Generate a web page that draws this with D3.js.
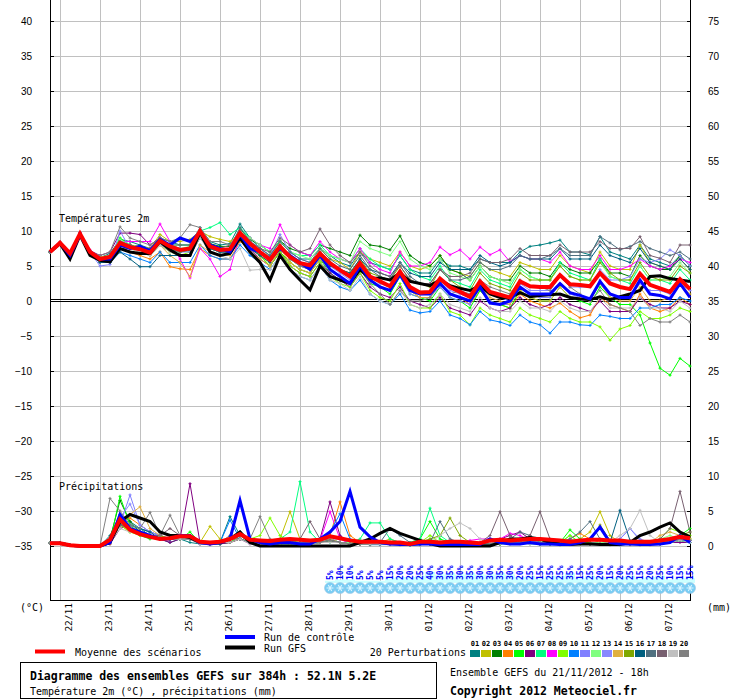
<!DOCTYPE html>
<html>
<head>
<meta http-equiv="Content-Type" content="text/html; charset=utf-8" />
<title>Diagramme des ensembles GEFS</title>
<script type="text/javascript" src="https://cdn.jsdelivr.net/npm/d3@7"></script>
<style type="text/css">
body { margin: 0; background: #fff; }
svg { display: block; }
.mono { font-family: "DejaVu Sans Mono", monospace; }
.axis text { font-family: "Liberation Sans", Arial, sans-serif; font-size: 10px; fill: #000; }
</style>
</head>
<body>
<script type="text/javascript">

// ---- data (pas de 6h, 65 echeances de 0h a 384h) ----
var dates = ["22/11","23/11","24/11","25/11","26/11","27/11","28/11","29/11","30/11","01/12","02/12","03/12","04/12","05/12","06/12","07/12"];
var tempTicks = [40,35,30,25,20,15,10,5,0,-5,-10,-15,-20,-25,-30,-35];
var precTicks = [75,70,65,60,55,50,45,40,35,30,25,20,15,10,5,0];

// temperature 2m
var tMean = [7.0,8.3,6.8,9.6,7.0, 6.0,6.3,8.3,7.7,7.4, 6.9,8.6,7.8,7.3,7.5, 10.0,7.8,7.3,7.4,9.7, 8.2,7.0,5.9,7.8,6.3, 5.4,5.1,6.8,5.4,4.4, 3.5,5.4,3.5,2.8,2.1, 4.2,2.0,1.2,1.3,3.2, 2.0,1.3,0.6,2.8,1.3, 0.9,0.5,2.8,2.1,2.0, 2.0,3.7,2.4,2.3,2.1, 4.0,2.5,2.0,1.7,3.9, 2.3,1.8,1.3,3.1,1.7];
var tCtrl = [7.0,8.3,6.5,9.5,7.0, 6.0,6.0,8.0,7.5,7.8, 7.2,8.8,8.0,9.0,8.5, 9.8,8.0,7.5,7.0,9.5, 7.5,7.0,6.0,7.5,6.5, 5.5,4.5,6.5,4.5,3.5, 2.5,5.0,3.0,2.0,1.5, 3.8,1.5,1.0,1.0,2.5, 1.0,0.5,0.0,2.0,-0.3, -0.5,0.0,2.0,1.0,1.0, 1.0,2.5,1.2,0.8,0.3, 2.8,1.0,0.5,0.5,3.0, 1.0,0.8,0.3,2.5,0.5];
var tGfs = [7.0,8.2,6.0,9.4,6.5, 5.8,5.6,7.5,7.0,6.8, 6.8,8.5,7.3,6.5,6.5, 9.8,7.0,6.5,6.8,9.0, 7.0,5.5,3.0,6.5,4.5, 3.0,1.6,5.0,3.5,3.0, 2.5,4.5,3.2,3.3,3.0, 4.0,2.8,2.5,2.2,3.0, 2.2,1.8,1.5,2.2,1.0, 0.5,0.5,1.2,0.6,0.8, 0.9,1.0,0.5,0.3,0.2, 0.6,0.2,0.6,1.0,1.5, 3.5,3.6,3.2,3.0,2.8];

var t01 = [7.0,8.3,6.6,9.8,7.2, 6.2,6.8,8.8,8.5, 8.0,7.5,9.0,8.5, 8.0,8.0,10.5,8.5, 8.0,8.2,11.0,9.0, 7.5,6.5,8.5,7.0, 6.0,6.0,7.5,6.5, 5.5,5.0,7.0,5.5, 5.0,4.5,6.5,4.5, 4.0,4.0,6.0,5.0, 5.0,4.5,6.0,5.5, 5.5,5.5,7.0,7.8, 8.0,8.3,8.7,7.0, 7.0,6.6,9.2,7.0, 6.5,6.0,8.0,6.0, 5.5,5.0,6.5,5.0];
var t02 = [7.0,8.2,6.9,9.5,7.1, 6.3,6.5,8.5,8.0, 7.8,7.5,9.5,8.5, 8.5,8.8,10.0,9.2, 8.8,8.5,9.5,8.0, 7.0,6.5,8.0,6.0, 5.5,4.5,7.5,6.0, 5.5,4.5,7.0,6.0, 5.5,5.0,7.0,5.0, 4.5,5.0,6.5,4.5, 4.0,3.5,5.5,4.5, 4.0,3.5,5.5,5.0, 4.5,4.5,6.5,5.0, 4.5,4.0,7.0,5.0, 4.5,4.5,8.0,5.5, 5.0,4.5,6.0,4.5];
var t03 = [7.1,8.4,6.7,9.7,7.0, 5.8,6.2,8.0,7.6, 7.2,6.8,8.4,7.5, 7.0,7.2,9.6,8.2, 7.8,7.8,10.3,8.8, 8.0,7.0,8.6,7.5, 7.0,6.5,8.0,7.5, 7.0,6.5,9.4,8.0, 7.8,7.3,9.3,6.5, 5.5,5.0,6.5,4.5, 4.0,3.0,5.0,3.5, 3.0,3.0,5.0,4.0, 4.0,3.5,5.5,4.5, 4.0,4.0,6.0,4.0, 4.0,3.5,6.5,5.0, 4.5,4.5,6.5,5.0];
var t04 = [7.0,8.2,6.8,9.5,6.9, 5.8,5.8,7.5,7.0, 6.5,6.0,7.0,4.9, 4.6,4.5,7.5,6.5, 6.0,6.0,8.5,7.5, 6.5,5.5,7.0,5.5, 4.5,4.0,6.0,4.5, 3.5,2.5,4.5,3.0, 2.0,1.5,3.5,1.5, 0.5,0.5,2.5,1.0, 0.5,-0.5,1.5,0.0, -0.5,-1.0,1.0,0.0, -0.5,-1.0,-0.3,-1.5, -2.4,-2.0,0.5,-0.5, -1.0,-1.5,1.0,-1.0, -1.5,-1.0,0.5,-0.5];
var t05 = [7.0,8.3,6.8,9.6,7.0, 6.0,6.4,9.0,8.0, 7.5,7.0,8.5,7.5, 7.0,7.5,10.0,7.5, 7.0,7.0,9.0,8.0, 6.5,5.0,7.0,5.5, 4.5,4.0,6.0,4.0, 3.0,2.5,4.5,2.5, 2.0,1.0,3.5,1.0, 0.5,0.0,2.0,0.5, 0.0,-1.0,1.5,0.0, -0.5,-1.0,1.5,0.5, 0.0,0.0,2.0,0.5, 0.0,-0.5,2.0,0.5, -0.5,-0.5,-2.0,-6.0, -9.6,-10.6,-8.2,-9.3];
var t06 = [7.0,8.3,6.9,9.7,7.2, 6.5,7.0,9.7,9.7, 9.5,8.0,9.0,8.0, 7.5,7.5,9.5,7.5, 7.0,7.0,9.0,7.5, 6.0,5.0,7.0,5.0, 4.0,3.5,5.5,4.0, 3.0,2.0,4.0,2.0, 1.0,0.5,2.0,0.0, -0.5,-1.0,0.5,-1.0, -1.5,-2.0,0.0,-1.0, -1.5,-1.0,0.5,-0.5, -1.0,-0.5,0.5,-0.5, -1.0,-1.5,0.0,-1.5, -1.5,-1.5,0.5,-0.5, -1.0,-1.0,0.0,-0.5];
var t07 = [7.0,8.2,6.7,9.6,7.0, 6.0,6.5,8.5,8.0, 7.5,7.0,8.5,8.0, 8.0,8.0,10.0,10.5, 11.2,9.5,10.5,9.0, 8.0,7.0,8.5,7.0, 6.5,6.5,8.0,6.5, 6.0,5.5,7.5,6.0, 5.0,4.5,6.5,4.5, 3.5,3.0,5.0,3.0, 2.5,2.0,4.5,3.0, 2.5,2.0,4.5,3.5, 3.0,3.0,5.5,4.0, 3.5,3.0,6.0,3.5, 3.0,2.5,5.0,3.0, 3.0,2.5,4.5,3.0];
var t08 = [7.0,8.4,6.9,9.8,7.3, 6.0,6.5,8.5,8.5, 8.5,8.5,11.0,8.5, 6.0,3.3,7.5,6.0, 3.5,4.5,9.5,9.0, 8.0,7.5,10.9,8.0, 7.0,6.5,8.5,7.0, 6.0,5.5,7.5,5.5, 4.5,4.0,7.0,5.0, 5.0,5.5,7.7,6.6, 7.3,6.0,7.7,6.6, 7.3,5.6,6.5,6.0, 6.0,5.5,7.0,5.0, 4.5,4.5,6.5,4.5, 4.5,5.0,6.0,5.0, 4.5,5.0,6.0,5.5];
var t09 = [7.0,8.3,6.8,9.6,7.0, 6.0,6.2,8.0,7.5, 7.0,6.5,8.0,7.0, 6.5,7.0,9.5,7.5, 7.0,7.0,9.0,7.5, 6.5,5.0,7.0,5.0, 4.0,3.5,5.5,3.5, 2.5,2.0,4.0,1.5, 0.5,0.0,2.5,-0.5, -1.0,-1.0,1.0,-1.5, -2.0,-3.4,-1.0,-2.0, -2.5,-3.0,-1.0,-2.0, -2.5,-3.0,-1.5,-2.5, -3.0,-3.0,-3.7,-5.6, -4.0,-3.5,-1.5,-2.5, -2.5,-2.0,-1.0,-1.5];
var t10 = [7.0,8.3,6.7,9.5,6.9, 5.5,5.5,7.0,6.5, 6.0,5.5,7.0,5.5, 5.5,5.5,8.0,6.5, 6.0,6.0,8.0,6.5, 5.5,4.5,6.5,4.5, 3.5,3.0,5.0,3.0, 2.0,1.5,3.0,1.0, 0.0,-0.5,1.0,-1.3, -1.7,-1.5,0.0,-2.0, -2.5,-3.4,-1.5,-2.7, -3.0,-3.5,-2.0,-3.0, -3.4,-4.6,-3.0,-3.0, -3.4,-3.5,-2.0,-2.2, -2.5,-2.5,-1.0,-1.0, -0.5,-0.5,0.5,0.0];
var t11 = [7.0,8.3,6.8,9.6,7.0, 5.0,5.2,10.0,7.5, 7.0,6.5,8.0,7.5, 7.0,7.0,9.5,7.5, 7.0,7.0,9.5,8.0, 7.0,6.0,8.0,6.5, 5.5,5.0,7.0,5.0, 4.0,3.0,5.0,3.0, 2.0,1.5,3.5,1.0, 0.5,0.5,2.0,0.5, 0.0,-0.5,2.0,0.0, -0.5,-0.5,2.0,1.0, 0.5,0.5,2.5,1.0, 0.5,0.0,3.0,1.0, 0.5,0.5,2.5,1.5, 1.5,1.0,2.5,1.5];
var t12 = [7.0,8.2,6.8,9.6,7.1, 6.2,6.5,8.8,8.0, 7.5,7.2,8.8,8.0, 7.5,7.8,10.5,8.0, 7.5,7.5,10.0,9.0, 8.0,7.0,8.5,7.0, 6.5,6.0,7.5,6.5, 6.0,5.5,8.5,7.5, 7.0,6.5,8.5,6.0, 5.0,4.5,6.0,4.0, 3.5,3.0,5.0,3.5, 3.0,2.5,4.5,3.5, 3.0,3.0,5.0,3.5, 3.0,3.0,5.5,3.5, 3.0,3.0,5.0,3.0, 3.0,3.5,5.5,4.0];
var t13 = [7.0,8.3,6.8,9.6,7.0, 5.5,5.5,8.0,7.5, 7.5,7.0,9.0,8.0, 7.5,7.5,10.5,8.0, 7.5,7.5,10.0,8.5, 7.5,6.5,9.5,7.0, 6.0,5.5,7.0,5.5, 4.5,3.5,5.5,3.5, 2.5,2.0,4.0,2.0, 1.0,1.0,3.0,1.5, 1.0,0.5,2.5,1.0, 0.5,0.0,2.5,1.5, 1.5,1.5,3.5,2.0, 2.0,2.0,4.5,3.0, 3.0,3.5,6.0,5.5, 6.0,7.3,6.5,5.0];
var t14 = [7.0,8.2,6.7,9.4,6.8, 5.5,5.8,7.5,7.5, 7.0,6.5,8.0,6.5, 5.5,3.5,8.0,7.0, 6.5,6.5,9.0,7.0, 6.0,5.0,7.5,5.5, 4.5,4.0,6.0,4.5, 3.5,2.5,5.0,3.0, 2.0,1.5,3.5,1.5, 0.5,0.5,2.5,1.0, 0.5,0.0,2.0,0.5, 0.0,-0.5,1.5,0.5, 0.0,0.0,2.0,0.5, 0.5,0.0,2.5,0.5, 0.0,0.0,2.0,0.0, 0.0,0.5,2.5,1.0];
var t15 = [7.0,8.3,6.8,9.6,7.0, 6.0,6.3,8.5,8.0, 7.5,7.0,8.5,7.5, 7.0,7.5,9.5,7.5, 7.5,7.5,9.5,8.0, 7.0,6.0,8.0,6.5, 5.5,5.0,7.0,5.5, 4.5,4.0,6.0,4.0, 3.5,3.0,5.0,3.0, 2.5,2.0,4.5,3.0, 2.0,1.5,4.0,2.5, 2.0,1.5,4.0,3.0, 3.0,3.0,5.0,3.5, 3.0,3.0,5.5,4.0, 3.0,3.0,5.5,3.5, 3.0,3.0,5.0,4.0];
var t16 = [7.0,8.3,6.6,9.3,6.8, 5.5,5.5,7.0,6.0, 4.9,4.9,6.5,6.5, 6.5,6.5,9.0,7.5, 7.0,7.0,9.0,7.5, 6.5,5.5,7.5,6.0, 5.0,4.5,6.5,5.0, 4.5,4.0,6.0,4.5, 4.0,3.5,5.5,4.0, 3.5,3.5,5.5,4.5, 4.5,4.5,6.5,5.5, 5.0,5.5,6.5,6.0, 6.0,6.0,7.5,6.0, 6.0,6.0,8.0,6.5, 6.0,5.5,7.5,5.5, 5.0,4.5,6.0,4.5];
var t17 = [7.0,8.3,6.8,9.6,7.0, 6.0,6.5,8.5,8.0, 7.5,7.0,8.5,7.5, 7.0,7.5,10.0,8.0, 7.5,7.5,10.5,8.5, 7.5,6.5,8.5,7.0, 6.0,5.5,7.5,6.0, 5.0,4.5,6.5,4.5, 3.5,3.0,5.5,3.5, 2.5,2.5,4.5,3.0, 3.0,3.5,5.5,4.5, 4.5,5.0,6.5,6.0, 6.0,6.5,7.5,6.5, 6.5,6.5,9.2,8.3, 7.3,7.8,8.5,7.5, 7.0,6.5,7.0,6.0];
var t18 = [7.0,8.3,6.8,9.6,7.0, 6.0,6.3,8.5,8.0, 7.5,7.5,9.0,8.0, 8.0,8.0,10.0,8.0, 7.5,8.0,10.0,8.5, 7.5,7.0,9.0,8.0, 7.0,7.5,10.3,8.0, 6.5,5.5,7.0,5.0, 4.0,3.5,5.0,3.0, 2.5,2.5,4.5,3.5, 3.5,4.0,6.0,5.5, 5.5,6.0,7.5,6.5, 6.5,6.5,8.0,7.0, 7.0,7.0,8.5,7.5, 7.5,7.5,9.2,6.5, 6.1,5.5,8.0,8.0];
var t19 = [7.0,8.2,6.7,9.5,6.9, 5.8,6.0,8.0,7.5, 7.0,6.5,8.0,7.0, 6.5,6.5,9.0,7.0, 6.5,6.0,7.5,4.4, 4.5,4.5,6.5,4.5, 3.5,3.0,5.0,3.0, 2.5,1.5,3.5,1.0, 0.0,-0.5,1.5,-0.5, -1.0,-0.5,1.0,-0.5, -1.0,-1.5,0.5,-1.0, -1.5,-1.5,0.0,-1.0, -1.0,-1.5,0.0,-1.0, -1.5,-1.5,0.5,-1.0, -1.0,-1.0,0.5,-1.0, -1.0,-1.5,0.0,-1.0];
var t20 = [7.0,8.4,6.9,9.7,7.0, 6.5,7.0,10.6,9.0, 8.5,8.0,9.0,8.5, 9.0,10.9,10.5,8.5, 8.5,8.0,10.0,8.0, 7.0,6.0,8.0,6.0, 5.0,4.5,6.5,4.5, 3.5,2.5,4.5,2.5, 1.0,-0.5,1.5,0.0, 0.0,0.5,2.5,1.0, 1.5,1.0,3.0,2.0, 1.5,1.0,3.0,2.0, 2.0,1.5,3.5,2.0, 1.0,0.0,1.5,-0.5, -1.0,-1.5,-3.5,-2.5, -3.0,-3.0,-2.0,-3.0];

// precipitations (mm)
var pMean = [0.4,0.4,0.1,0,0, 0,0.9,3.8,2.3,1.7, 1.3,1.0,1.1,1.4,1.4, 0.6,0.5,0.6,1.0,1.7, 0.9,0.8,0.7,0.9,1.0, 0.9,0.8,0.9,1.4,1.1, 0.8,0.6,0.6,0.6,0.5, 0.5,0.3,0.6,0.6,0.5, 0.6,0.6,0.5,0.4,0.8, 0.9,0.8,0.9,1.0,1.0, 0.9,0.8,0.6,0.8,0.9, 0.9,0.8,0.8,0.6,0.6, 0.6,0.8,1.0,1.3,1.1];
var pCtrl = [0.4,0.4,0.1,0,0, 0,0.5,4.5,2.5,2.0, 1.5,1.0,1.0,1.5,1.5, 0.5,0.3,0.5,1.0,6.5, 1.0,0.5,0.3,0.5,0.5, 0.3,0.3,1.0,2.0,3.5, 7.8,2.7,1.3,0.5,0.3, 0.2,0.2,0.3,0.3,0.2, 0.2,0.2,0.2,0.2,1.0, 0.5,0.3,0.3,0.5,0.3, 0.3,0.2,0.2,0.5,1.0, 2.7,0.5,0.3,0.3,0.2, 0.2,0.3,0.5,1.5,0.5];
var pGfs = [0.4,0.4,0.1,0,0, 0,0.5,3.5,4.5,4.0, 3.5,2.0,1.5,1.5,1.2, 0.5,0.5,0.5,1.0,2.0, 0.5,0,0,0,0, 0,0,0,0,0, 0,0.5,1.0,1.8,2.5, 1.8,1.3,0.8,0.3,0, 0,0,0,0,0, 0.5,1.0,1.0,1.2,1.0, 0.5,0.3,0.2,0.3,0.3, 0.2,0.2,0.2,0.5,1.5, 2.0,2.7,3.3,2.0,1.3];

var r01 = [0.4,0.4,0.1,0,0, 0,1.5,4.5,3.5,2.5, 1.5,1.0,0.5,1.0,0.5, 0.3,0.2,0.5,4.2,1.5, 0.5,0.5,0.2,0.3,0.5, 0.5,0.3,0.5,1.5,1.0, 0.5,0.3,0.2,0.2,0.3, 0.2,0.1,0.3,0.5,0.5, 0.3,0.2,0.1,0.2,0.3, 0.5,1.0,0.8,0.5,0.5, 0.3,0.2,0.3,0.5,0.3, 0.5,0.3,0.2,0.3,0.2, 0.2,0.3,0.5,0.8,0.5];
var r02 = [0.4,0.4,0.1,0,0, 0,0.3,3.0,2.0,2.5, 2.0,1.5,1.0,1.0,1.5, 0.5,2.8,1.0,0.5,1.0, 0.5,0.3,0.5,1.0,4.9, 1.0,0.5,0.5,0.8,0.5, 0.3,0.3,0.5,0.5,1.0, 0.5,0.3,0.2,0.3,0.3, 0.5,0.5,0.3,0.2,0.2, 0.3,0.5,0.5,0.3,0.3, 0.3,0.2,0.5,1.0,2.0, 4.9,1.5,0.5,0.3,0.3, 0.3,0.5,1.0,1.5,1.0];
var r03 = [0.4,0.4,0.1,0,0, 0,1.0,6.5,3.5,2.0, 1.5,1.0,1.0,1.5,1.0, 0.5,0.3,0.3,0.5,1.0, 0.5,0.5,0.3,0.5,0.3, 0.3,0.5,0.5,1.0,0.5, 0.3,0.3,0.2,0.5,0.5, 0.3,0.2,0.3,0.5,0.3, 0.2,0.2,0.2,0.3,0.3, 0.3,0.5,1.0,0.5,0.5, 0.3,0.2,0.2,0.5,0.3, 0.3,0.2,0.2,0.3,0.3, 0.5,0.5,0.8,1.0,0.5];
var r04 = [0.4,0.4,0.1,0,0, 0,0.5,3.5,4.0,3.0, 2.0,1.5,1.0,1.0,1.0, 0.5,0.3,0.5,1.0,1.5, 0.5,0.3,0.3,0.5,0.5, 0.5,0.3,0.5,1.5,6.3, 1.5,0.5,0.3,0.3,0.2, 0.2,0.2,0.3,0.3,0.3, 0.2,0.2,0.2,0.2,0.3, 0.3,0.5,0.5,0.5,0.3, 0.3,0.5,1.0,1.8,1.0, 0.5,0.3,0.3,0.2,0.2, 0.3,0.5,0.5,0.8,0.5];
var r05 = [0.4,0.4,0.1,0,0, 0,0.5,7.1,3.0,1.5, 1.0,1.5,1.0,1.0,2.0, 0.5,0.3,0.5,0.5,1.5, 0.5,0.5,0.3,0.5,0.5, 0.8,0.5,0.5,1.0,0.5, 0.3,0.5,0.3,0.3,0.5, 0.3,0.5,1.0,3.5,1.0, 0.5,0.3,0.3,0.3,0.2, 0.3,0.5,0.5,0.5,0.8, 0.5,0.5,2.3,1.0,0.5, 0.3,0.3,0.5,0.5,0.3, 0.5,0.8,1.0,1.5,2.5];
var r06 = [0.4,0.4,0.1,0,0, 0,0.3,2.5,3.0,2.0, 1.5,1.0,0.5,1.0,8.9, 0.5,0.2,0.3,0.5,1.0, 0.3,0.3,0.2,0.3,0.5, 0.5,0.5,1.0,6.3,1.5, 0.5,0.3,0.3,0.5,0.3, 0.3,0.2,0.2,0.3,0.3, 0.3,0.2,0.2,0.3,0.5, 1.0,1.5,2.0,1.0,0.5, 0.3,0.3,0.5,0.5,0.3, 0.3,0.2,0.3,0.3,0.2, 0.2,0.3,0.5,0.5,0.5];
var r07 = [0.4,0.4,0.1,0,0, 0,0.5,3.5,2.5,2.0, 1.5,1.0,1.0,1.5,1.0, 0.5,0.5,0.5,1.0,1.5, 0.5,0.5,0.5,1.0,2.0, 9.2,2.0,0.5,0.5,0.5, 0.5,1.0,3.3,3.3,1.0, 0.5,0.5,1.0,5.4,1.5, 0.5,0.3,0.3,0.3,0.5, 0.5,0.5,0.5,0.5,0.3, 0.3,0.5,1.5,0.5,0.3, 0.3,0.3,0.3,0.3,0.3, 0.3,0.5,0.5,0.8,0.5];
var r08 = [0.4,0.4,0.1,0,0, 0,0.5,3.0,2.5,2.0, 1.5,1.5,1.0,1.0,1.0, 0.3,0.3,0.5,1.0,1.0, 0.5,0.3,0.3,0.5,0.5, 0.5,0.5,0.8,4.9,1.0, 0.3,0.3,0.3,0.3,0.3, 0.2,0.2,0.3,0.3,0.5, 0.5,0.5,0.8,1.0,1.0, 1.0,1.8,1.5,0.8,0.5, 0.3,0.3,0.3,0.5,0.3, 0.3,0.3,0.3,0.2,0.5, 0.5,0.5,0.5,1.0,0.8];
var r09 = [0.4,0.4,0.1,0,0, 0,0.5,3.0,2.0,1.5, 1.5,1.0,1.0,1.0,1.5, 0.5,0.5,0.5,1.0,1.5, 1.0,1.5,4.0,1.5,0.5, 0.5,0.5,0.5,0.8,0.5, 0.3,0.3,0.3,0.5,0.5, 0.3,0.3,0.5,1.5,0.5, 0.3,0.2,0.3,0.3,0.3, 0.5,0.5,0.5,0.5,0.5, 0.3,0.5,1.5,0.5,0.5, 0.3,0.3,0.5,0.5,0.5, 0.5,1.0,2.5,2.0,1.5];
var r10 = [0.4,0.4,0.1,0,0, 0,0.5,3.5,3.0,2.5, 2.0,1.5,1.0,1.5,1.0, 0.5,0.5,0.5,3.7,1.0, 0.5,0.5,0.3,0.3,0.3, 0.3,0.5,1.0,2.0,4.6, 1.0,0.5,0.2,0.2,0.2, 0.2,0.1,0.2,0.3,0.2, 0.2,0.1,0.1,0.2,0.2, 0.3,0.3,0.5,0.3,0.2, 0.2,0.2,0.3,0.5,0.3, 0.3,0.2,0.2,0.2,0.2, 0.3,0.5,0.8,1.0,0.5];
var r11 = [0.4,0.4,0.1,0,0, 0,0.5,3.0,7.3,3.0, 2.0,1.5,1.0,1.5,1.5, 0.5,0.3,0.5,1.0,2.0, 0.5,0.5,0.3,0.5,0.5, 0.5,0.3,0.5,1.0,1.0, 0.5,0.3,0.3,0.3,0.3, 0.3,0.2,0.3,0.3,0.3, 0.3,0.3,0.3,0.3,0.5, 0.5,0.5,0.5,0.5,0.3, 0.3,0.3,0.5,0.5,0.5, 0.3,0.5,1.0,2.5,1.0, 0.5,0.5,1.0,1.5,0.8];
var r12 = [0.4,0.4,0.1,0,0, 0,0.5,4.0,3.0,2.0, 1.5,1.0,1.0,1.0,1.0, 0.5,0.5,0.5,1.0,1.5, 0.5,0.5,0.5,0.5,0.5, 1.0,0.5,0.5,0.8,0.5, 0.5,0.5,0.5,0.5,0.5, 0.3,0.3,0.5,1.0,0.5, 0.3,0.3,0.3,0.3,0.3, 0.3,0.5,0.5,0.5,0.3, 0.3,0.3,0.5,0.5,0.3, 0.5,0.5,0.5,0.5,0.5, 0.5,1.0,1.5,1.0,1.0];
var r13 = [0.4,0.4,0.1,0,0, 0,0.5,4.0,6.0,3.0, 2.0,1.5,1.0,1.0,1.0, 0.5,0.3,0.5,1.0,1.5, 0.5,0.5,0.3,0.5,0.5, 0.5,0.3,0.5,1.0,0.5, 0.3,0.3,0.3,0.3,0.3, 0.3,0.3,0.3,0.5,0.5, 0.3,0.3,0.3,0.3,0.3, 0.5,0.5,0.5,0.5,0.3, 0.3,0.5,1.0,0.5,0.3, 0.3,0.3,1.0,2.5,0.8, 0.3,0.5,0.8,1.0,0.8];
var r14 = [0.4,0.4,0.1,0,0, 0,0.5,3.0,4.5,5.6, 2.5,1.5,1.0,1.0,1.5, 0.5,0.3,0.5,1.0,1.5, 0.5,0.5,0.3,0.5,0.5, 0.5,0.5,0.5,1.0,0.5, 0.3,0.3,0.3,0.5,0.5, 0.3,0.2,0.3,0.3,0.3, 0.3,0.3,0.3,0.5,0.3, 0.3,0.5,0.5,0.5,0.5, 0.3,0.3,0.3,0.5,0.3, 0.3,0.3,0.3,0.3,0.3, 0.5,1.5,2.0,1.5,1.0];
var r15 = [0.4,0.4,0.1,0,0, 0,0.5,3.0,2.5,2.0, 1.5,1.5,1.0,1.0,1.0, 0.5,0.5,0.5,1.0,1.0, 0.5,0.5,0.3,0.5,0.5, 0.5,0.3,0.5,0.8,0.5, 0.3,0.3,0.3,0.5,0.5, 0.3,0.3,0.5,1.0,1.5, 4.0,1.5,0.5,0.3,0.3, 0.3,0.5,0.5,0.5,0.3, 0.3,0.3,0.5,0.5,0.5, 3.0,0.8,0.5,0.3,0.3, 0.5,0.5,0.8,1.5,2.0];
var r16 = [0.4,0.4,0.1,0,0, 0,0.5,3.0,3.0,2.5, 2.0,1.0,1.0,1.0,1.0, 0.3,0.3,0.3,1.0,2.0, 0.5,0.3,0.3,0.3,0.3, 0.5,0.3,0.5,0.8,0.5, 0.3,0.3,0.3,0.3,0.3, 0.3,0.2,0.2,0.3,0.3, 0.3,0.2,0.2,0.3,0.3, 0.3,0.5,0.5,0.5,0.3, 0.3,0.3,0.3,0.5,0.3, 0.3,0.5,5.1,0.8,0.3, 0.3,0.3,0.5,0.8,0.5];
var r17 = [0.4,0.4,0.1,0,0, 0,0.5,3.5,2.5,2.0, 1.5,1.0,1.0,1.0,1.0, 0.5,0.5,0.5,1.5,1.0, 0.5,0.5,0.3,0.5,0.5, 0.5,0.5,0.5,0.8,0.5, 0.3,0.3,0.3,0.5,2.5, 1.5,0.5,0.5,0.5,3.5, 1.0,0.5,0.3,0.3,0.5, 0.5,1.0,2.0,1.5,0.5, 0.3,0.5,1.0,2.0,3.5, 1.0,0.5,0.3,0.3,0.3, 0.3,0.5,0.5,1.0,0.8];
var r18 = [0.4,0.4,0.1,0,0, 0,0.5,3.0,2.5,2.0, 1.5,1.5,2.5,1.5,1.0, 0.5,0.3,0.5,1.0,1.5, 0.5,0.5,0.5,0.5,0.5, 1.0,3.5,1.0,0.8,0.5, 0.3,0.3,0.3,0.3,0.3, 0.3,0.3,0.3,0.5,0.5, 0.3,0.3,0.3,0.5,1.5, 4.9,1.5,0.5,1.5,4.9, 1.0,0.5,0.3,0.3,0.3, 0.3,0.3,0.3,0.5,0.5, 0.5,1.0,2.5,7.8,2.0];
var r19 = [0.4,0.4,0.1,0,0, 0,0.5,2.5,2.0,2.0, 1.5,1.0,1.0,1.0,1.0, 0.3,0.3,0.5,0.5,1.0, 0.3,0.3,0.3,0.3,0.3, 0.3,0.3,0.5,0.5,0.5, 0.3,0.3,0.3,0.3,0.3, 0.3,0.2,0.3,0.5,1.5, 2.5,3.3,2.5,1.0,0.5, 0.3,0.3,0.3,0.3,0.3, 0.3,0.3,0.3,0.5,0.3, 0.3,0.5,1.5,2.5,5.1, 1.5,0.5,0.5,0.8,0.5];
var r20 = [0.4,0.4,0.1,0,0, 0,6.8,5.0,3.0,2.5, 4.8,1.5,4.4,1.5,1.0, 0.5,0.5,0.5,1.0,1.5, 1.0,4.2,1.0,0.5,0.5, 0.5,0.5,0.5,0.8,0.5, 0.3,0.3,0.5,0.5,0.5, 0.3,0.3,0.3,0.5,0.5, 0.3,0.3,0.3,0.3,0.3, 0.5,0.5,0.5,0.8,0.5, 0.3,0.3,0.5,0.5,0.3, 0.3,0.3,0.3,0.5,0.3, 0.3,0.5,0.5,1.0,0.8];

// probabilite de neige (%) a partir de l'echeance 28 (168h)
var snowStart = 28;
var snowPct = [5,10,10,5,5,5,15,20,20,25,40,30,35,30,35,30,30,35,30,20,25,15,25,25,35,15,25,20,15,20,25,15,20,25,10,15,15];

var pertColors = ["#008080","#c0c000","#008000","#ff8000","#00ff00","#800080","#00ff80","#ff00ff","#80ff00","#0080ff",
                  "#8080ff","#80ff80","#8888ff","#e0b040","#80a800","#006080","#507080","#786070","#c0c0c0","#808080"];
var pertTemp = [t01,t02,t03,t04,t05,t06,t07,t08,t09,t10,t11,t12,t13,t14,t15,t16,t17,t18,t19,t20];
var pertPrec = [r01,r02,r03,r04,r05,r06,r07,r08,r09,r10,r11,r12,r13,r14,r15,r16,r17,r18,r19,r20];

// ---- svg ----
var svg = d3.select("body").append("svg")
    .attr("width", 740)
    .attr("height", 700);

var x = d3.scaleLinear().domain([0, 64]).range([50, 690]);
var yT = d3.scaleLinear().domain([-35, 40]).range([546, 21]);
var yP = d3.scaleLinear().domain([0, 75]).range([546, 21]);
var dayIdx = dates.map(function(d, i){ return 1 + 4 * i; });

// grille
var grid = svg.append("g").attr("stroke", "#c0c0c0").attr("shape-rendering", "crispEdges");
grid.selectAll("line.v").data(dayIdx).enter().append("line")
    .attr("x1", function(d){ return x(d) + 0.5; })
    .attr("x2", function(d){ return x(d) + 0.5; })
    .attr("y1", 0).attr("y2", 600);
grid.selectAll("line.h").data(tempTicks).enter().append("line")
    .attr("x1", 50).attr("x2", 690)
    .attr("y1", function(d){ return Math.round(yT(d)) + 0.5; })
    .attr("y2", function(d){ return Math.round(yT(d)) + 0.5; });

// axes gauche / droite
var axL = svg.append("g").attr("class", "axis").attr("transform", "translate(50,0)")
    .call(d3.axisLeft(yT).tickValues(tempTicks).tickSize(0).tickPadding(18));
axL.select(".domain").remove();
var axR = svg.append("g").attr("class", "axis").attr("transform", "translate(690,0)")
    .call(d3.axisRight(yP).tickValues(precTicks).tickSize(0).tickPadding(18));
axR.select(".domain").remove();

// axe des dates
var axB = svg.append("g").attr("class", "axis").attr("transform", "translate(0,600)")
    .call(d3.axisBottom(x).tickValues(dayIdx).tickSize(0).tickFormat(function(d, i){ return dates[i]; }));
axB.select(".domain").remove();
axB.selectAll(".tick text")
    .attr("class", "mono")
    .style("font-family", "'DejaVu Sans Mono', monospace")
    .style("font-size", "9.5px")
    .attr("transform", "rotate(-90)")
    .attr("text-anchor", "end")
    .attr("x", -3).attr("y", 11).attr("dy", 0);

// cadre
var frame = svg.append("g").attr("stroke", "#000").attr("shape-rendering", "crispEdges");
frame.append("line").attr("x1", 50.5).attr("x2", 50.5).attr("y1", 0).attr("y2", 601);
frame.append("line").attr("x1", 690.5).attr("x2", 690.5).attr("y1", 0).attr("y2", 601);
frame.append("line").attr("x1", 50).attr("x2", 691).attr("y1", 600.5).attr("y2", 600.5);
frame.selectAll("line.tl").data(tempTicks).enter().append("line")
    .attr("x1", 50).attr("x2", 54)
    .attr("y1", function(d){ return Math.round(yT(d)) + 0.5; })
    .attr("y2", function(d){ return Math.round(yT(d)) + 0.5; });
frame.selectAll("line.tr").data(tempTicks).enter().append("line")
    .attr("x1", 687).attr("x2", 691)
    .attr("y1", function(d){ return Math.round(yT(d)) + 0.5; })
    .attr("y2", function(d){ return Math.round(yT(d)) + 0.5; });
// ligne du zero (double)
frame.append("line").attr("x1", 50).attr("x2", 690).attr("y1", Math.round(yT(0)) - 1.5).attr("y2", Math.round(yT(0)) - 1.5);
frame.append("line").attr("x1", 50).attr("x2", 690).attr("y1", Math.round(yT(0)) + 0.5).attr("y2", Math.round(yT(0)) + 0.5);

svg.append("text").attr("class", "mono").attr("x", 59).attr("y", 222).attr("font-size", 10).text("Températures 2m");
svg.append("text").attr("class", "mono").attr("x", 59).attr("y", 490).attr("font-size", 10).text("Précipitations");
svg.append("text").attr("class", "mono").attr("x", 20).attr("y", 611).attr("font-size", 10).text("(°C)");
svg.append("text").attr("class", "mono").attr("x", 707).attr("y", 611).attr("font-size", 10).text("(mm)");

// courbes
var lineT = d3.line().x(function(d, i){ return x(i); }).y(function(d){ return yT(d); });
var lineP = d3.line().x(function(d, i){ return x(i); }).y(function(d){ return yP(d); });

function marks(vals, sc) {   // petites croix sur chaque echeance
    return vals.map(function(v, i){
        var cx = x(i), cy = sc(v);
        return "M" + (cx - 1.5) + "," + cy + "h3M" + cx + "," + (cy - 1.5) + "v3";
    }).join("");
}

var series = svg.append("g").attr("fill", "none");
pertTemp.forEach(function(s, k){
    series.append("path").attr("d", lineT(s)).attr("stroke", pertColors[k]).attr("stroke-width", 1);
    series.append("path").attr("d", marks(s, yT)).attr("stroke", pertColors[k]).attr("stroke-width", 1);
});
pertPrec.forEach(function(s, k){
    series.append("path").attr("d", lineP(s)).attr("stroke", pertColors[k]).attr("stroke-width", 1);
    series.append("path").attr("d", marks(s, yP)).attr("stroke", pertColors[k]).attr("stroke-width", 1);
});

series.append("path").attr("d", lineT(tGfs)).attr("stroke", "#000").attr("stroke-width", 3);
series.append("path").attr("d", lineP(pGfs)).attr("stroke", "#000").attr("stroke-width", 3);
series.append("path").attr("d", lineT(tCtrl)).attr("stroke", "#0000ff").attr("stroke-width", 3);
series.append("path").attr("d", lineP(pCtrl)).attr("stroke", "#0000ff").attr("stroke-width", 3);
series.append("path").attr("d", lineT(tMean)).attr("stroke", "#ff0000").attr("stroke-width", 4);
series.append("path").attr("d", lineP(pMean)).attr("stroke", "#ff0000").attr("stroke-width", 4);

// risque de neige
var snow = svg.append("g");
snow.selectAll("rect").data(snowPct).enter().append("rect")
    .attr("x", function(d, j){ return x(snowStart + j) - 5; })
    .attr("width", 10)
    .attr("y", function(d){ return 583 - (1 + d * 0.25); })
    .attr("height", function(d){ return 1 + d * 0.25; })
    .attr("fill", "#ccffff");
var flakes = snow.selectAll("g.flake").data(snowPct).enter().append("g")
    .attr("transform", function(d, j){ return "translate(" + x(snowStart + j) + ",588)"; });
flakes.append("circle").attr("r", 5.5).attr("fill", "#78cdf5").attr("stroke", "#9cc4e0").attr("stroke-width", 0.6);
[0, 60, 120].forEach(function(a){
    flakes.append("line").attr("x1", -3.5).attr("x2", 3.5).attr("y1", 0).attr("y2", 0)
        .attr("transform", "rotate(" + a + ")")
        .attr("stroke", "#e0f7ff").attr("stroke-width", 1);
});
snow.selectAll("text").data(snowPct).enter().append("text")
    .attr("class", "mono")
    .attr("transform", function(d, j){ return "translate(" + (x(snowStart + j) + 3) + ",580) rotate(-90)"; })
    .attr("font-size", 8).attr("font-weight", "bold").attr("fill", "#0000ff")
    .text(function(d){ return d + "%"; });

// legende
var leg = svg.append("g");
leg.append("line").attr("x1", 35).attr("x2", 65).attr("y1", 651.5).attr("y2", 651.5).attr("stroke", "#ff0000").attr("stroke-width", 4);
leg.append("text").attr("class", "mono").attr("x", 75).attr("y", 655.5).attr("font-size", 10).text("Moyenne des scénarios");
leg.append("line").attr("x1", 225).attr("x2", 255).attr("y1", 637).attr("y2", 637).attr("stroke", "#0000ff").attr("stroke-width", 4);
leg.append("text").attr("class", "mono").attr("x", 264).attr("y", 641).attr("font-size", 10).text("Run de contrôle");
leg.append("line").attr("x1", 225).attr("x2", 255).attr("y1", 647.5).attr("y2", 647.5).attr("stroke", "#000").attr("stroke-width", 4);
leg.append("text").attr("class", "mono").attr("x", 264).attr("y", 652).attr("font-size", 10).text("Run GFS");
leg.append("text").attr("class", "mono").attr("x", 466).attr("y", 656).attr("font-size", 10).attr("text-anchor", "end").text("20 Perturbations");
leg.selectAll("rect.p").data(pertColors).enter().append("rect")
    .attr("x", function(d, k){ return 470 + k * 11; })
    .attr("y", 650).attr("width", 10).attr("height", 7)
    .attr("fill", function(d){ return d; });
leg.selectAll("text.n").data(pertColors).enter().append("text")
    .attr("class", "mono")
    .attr("x", function(d, k){ return 475 + k * 11; })
    .attr("y", 646).attr("font-size", 7).attr("font-weight", "bold").attr("text-anchor", "middle")
    .text(function(d, k){ return (k < 9 ? "0" : "") + (k + 1); });

// cartouche
svg.append("rect").attr("x", 20.5).attr("y", 662.5).attr("width", 416).attr("height", 36)
    .attr("fill", "none").attr("stroke", "#000").attr("shape-rendering", "crispEdges");
svg.append("text").attr("class", "mono").attr("x", 30).attr("y", 680).attr("font-size", 11.5).attr("font-weight", "bold")
    .text("Diagramme des ensembles GEFS sur 384h : 52.1N 5.2E");
svg.append("text").attr("class", "mono").attr("x", 30).attr("y", 695).attr("font-size", 10)
    .text("Température 2m (°C) , précipitations (mm)");
svg.append("text").attr("class", "mono").attr("x", 450).attr("y", 676).attr("font-size", 10)
    .text("Ensemble GEFS du 21/11/2012 - 18h");
svg.append("text").attr("class", "mono").attr("x", 450).attr("y", 695).attr("font-size", 11.5).attr("font-weight", "bold")
    .text("Copyright 2012 Meteociel.fr");

</script>
</body>
</html>
